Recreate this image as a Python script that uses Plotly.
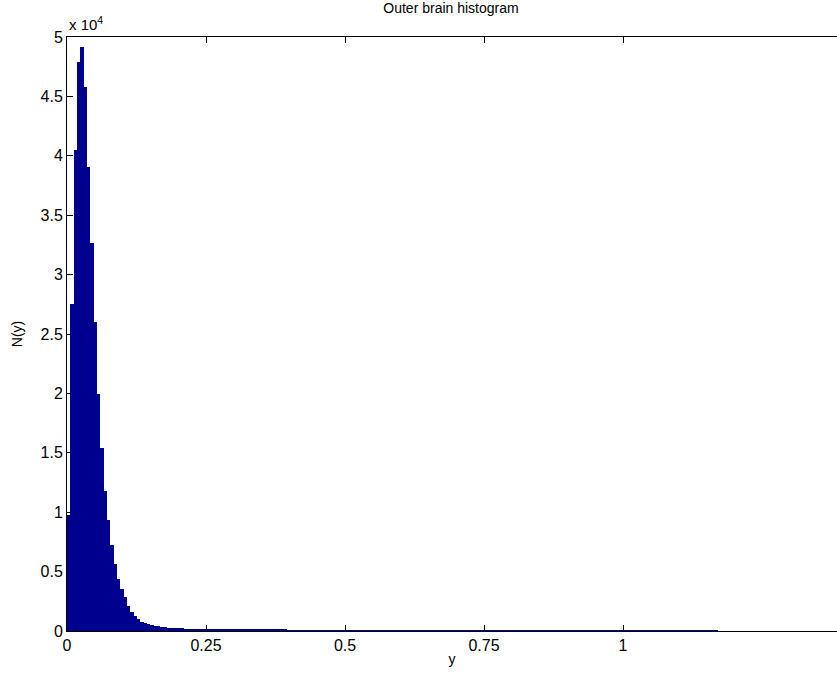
import plotly.graph_objects as go

# Histogram data: bin width 0.006 starting at 0
bin_width = 0.006
counts = [
    9760, 27530, 40490, 47900, 49160, 45800, 39060, 32630, 25980, 19950,
    15430, 11810, 9340, 7240, 5640, 4380, 3500, 2850, 2120, 1630,
    1260, 990, 790, 650, 550, 470, 400, 390, 340, 330,
    280, 270, 260, 230, 220, 210, 200, 190, 180, 150,
    140,
    130, 125, 120, 115, 110, 105, 100, 100,
    105, 110, 120, 135, 150, 165, 175, 180, 175, 165, 150, 135, 120, 105,
    95, 90, 85, 80, 75, 70, 65, 60, 55, 50, 45, 40, 35, 30, 25,
    22, 20, 18, 17, 16, 15, 14, 13, 12, 12, 11, 11, 10,
    10, 9, 9, 10, 8, 9, 9, 8, 9, 8, 8, 9, 8, 7, 8, 8, 9, 8, 7, 8,
    8, 7, 8, 9, 8, 7, 8, 8, 7, 8, 9, 9, 10, 11,
    12, 15, 20, 25, 30, 35, 40, 45, 45, 40, 35, 30, 25, 20, 15, 12, 10,
    9, 8, 8, 7, 8, 7, 7, 8, 7, 6, 7, 7, 6, 7, 6, 6, 7, 6, 6, 7,
    6, 7, 7, 6, 7, 7, 8, 7, 8, 8, 9,
    10, 15, 20, 30, 40, 50, 60, 70, 75, 80, 80, 75, 70, 60, 50, 40, 30, 20, 15, 10,
    8, 5,
]
x_ticks = [0, 0.25, 0.5, 0.75, 1]
x_tick_labels = ["0", "0.25", "0.5", "0.75", "1"]
y_ticks = [0, 5000, 10000, 15000, 20000, 25000, 30000, 35000, 40000, 45000, 50000]
y_tick_labels = ["0", "0.5", "1", "1.5", "2", "2.5", "3", "3.5", "4", "4.5", "5"]

centers = [bin_width * (i + 0.5) for i in range(len(counts))]
edges_span = [0, bin_width * len(counts)]

navy = "#00008F"
font = "Liberation Sans, Arial, sans-serif"

fig = go.Figure()
fig.add_trace(go.Bar(
    x=centers, y=counts, width=bin_width,
    marker=dict(color=navy, line=dict(width=0)),
    hoverinfo="skip",
))
fig.add_trace(go.Scatter(
    x=edges_span, y=[0, 0], mode="lines",
    line=dict(color=navy, width=2), cliponaxis=False, hoverinfo="skip",
))

fig.update_layout(
    width=837, height=676,
    margin=dict(l=67, r=0, t=37, b=45),
    paper_bgcolor="white", plot_bgcolor="white",
    showlegend=False, bargap=0,
    font=dict(family=font, color="black", size=16),
    title=dict(text="Outer brain histogram", x=0.4987, xref="paper",
               y=1 - 8 / 676, yref="container", yanchor="middle", xanchor="center",
               font=dict(size=14, family=font, color="black")),
)
fig.update_xaxes(
    range=[0, 770 / 556], tickvals=x_ticks, ticktext=x_tick_labels,
    showgrid=False, zeroline=False, showline=True, linecolor="black", linewidth=1,
    mirror="ticks", ticks="inside", ticklen=6, tickcolor="black",
    layer="below traces",
    title=dict(text="y", font=dict(size=14), standoff=0),
)
fig.update_yaxes(
    range=[0, 50000], tickvals=y_ticks, ticktext=y_tick_labels,
    showgrid=False, zeroline=False, showline=True, linecolor="black", linewidth=1,
    ticks="inside", ticklen=6, tickcolor="black",
    layer="below traces",
    title=dict(text="N(y)", font=dict(size=14), standoff=14),
)
fig.add_annotation(
    text="x 10<sup>4</sup>", xref="paper", yref="paper", x=0, y=1,
    xanchor="left", yanchor="bottom", showarrow=False, yshift=2,
    font=dict(size=15, family=font, color="black"),
)

fig.write_html("out.html")
